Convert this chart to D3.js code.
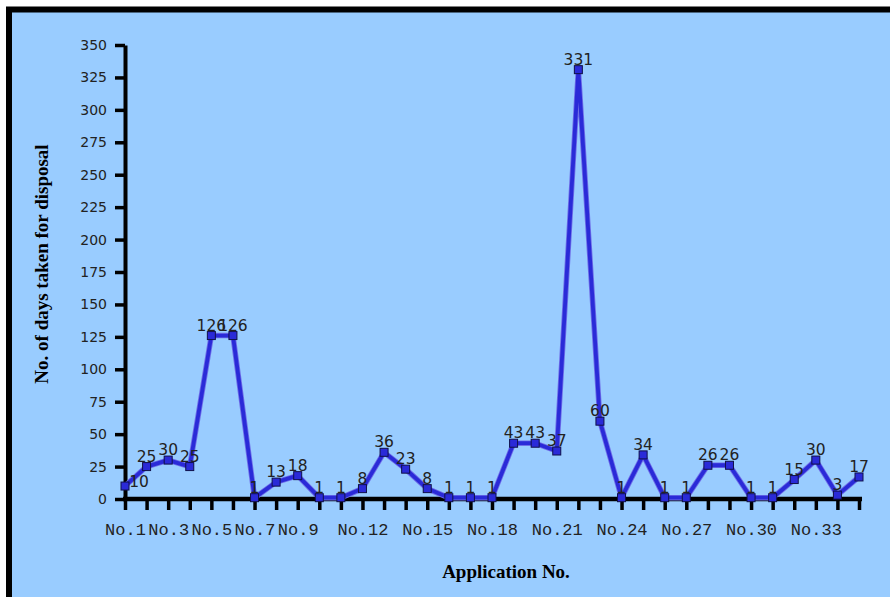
<!DOCTYPE html>
<html lang="en">
<head>
    <meta charset="UTF-8">
    <title>Days taken for disposal</title>
    <script src="https://d3js.org/d3.v7.min.js"></script>
    <style>
        body{ margin:0; background:white; }
        svg{ display:block; }
    </style>
</head>
<body>
    <script>
        const apps = d3.range(1, 36).map(function(i){ return "No." + i; });
        const days = [10,25,30,25,126,126,1,13,18,1,1,8,36,23,8,1,1,1,43,43,37,331,60,1,34,1,1,26,26,1,1,15,30,3,17];
        const shownLabels = ["No.1","No.3","No.5","No.7","No.9","No.12","No.15","No.18","No.21","No.24","No.27","No.30","No.33"];
        const yTicks = d3.range(0, 351, 25);

        const w = 890, h = 597;
        const margin = {left:125, right:31, top:45, bottom:98};

        const svg = d3.select("body").append("svg").attr("width",w).attr("height",h);

        // chart area with black frame (cropped at right and bottom)
        svg.append("rect")
            .attr("x",9).attr("y",9.5).attr("width",w+20).attr("height",h+20)
            .attr("fill","#99ccff").attr("stroke","black").attr("stroke-width",6);

        const x = d3.scalePoint().domain(apps).range([margin.left, w-margin.right]);
        const y = d3.scaleLinear().domain([0,350]).range([h-margin.bottom, margin.top]);

        const yaxis = d3.axisLeft(y).tickValues(yTicks).tickSize(10).tickSizeOuter(0).tickPadding(8);
        const gy = svg.append("g").attr("transform","translate("+margin.left+",0)").call(yaxis);
        gy.select(".domain").attr("stroke","black").attr("stroke-width",4);
        gy.selectAll(".tick line").attr("stroke","black").attr("stroke-width",3.5);
        gy.selectAll(".tick text").attr("font-family","DejaVu Sans").attr("font-size",14).attr("fill","#222");

        const xaxis = d3.axisBottom(x).tickSize(11).tickSizeOuter(0).tickPadding(13)
            .tickFormat(function(d){ return shownLabels.indexOf(d) >= 0 ? d : ""; });
        const gx = svg.append("g").attr("transform","translate(0,"+(h-margin.bottom)+")").call(xaxis);
        gx.select(".domain").attr("stroke","black").attr("stroke-width",4.5).attr("d","M123,0H862");
        gx.selectAll(".tick line").attr("stroke","black").attr("stroke-width",3.5);
        gx.selectAll(".tick text").attr("font-family","'Liberation Mono', monospace").attr("font-size",17).attr("fill","#222");

        const line = d3.line()
            .x(function(d,i){ return x(apps[i]); })
            .y(function(d){ return y(d); });

        svg.append("path").datum(days).attr("d",line)
            .attr("fill","none").attr("stroke","#6f6fe8").attr("stroke-width",5.5).attr("stroke-linejoin","round");
        svg.append("path").datum(days).attr("d",line)
            .attr("fill","none").attr("stroke","#2a2ad8").attr("stroke-width",3.8).attr("stroke-linejoin","round");

        svg.selectAll("rect.mark").data(days).enter().append("rect")
            .attr("class","mark")
            .attr("x",function(d,i){ return x(apps[i]) - 4; })
            .attr("y",function(d){ return y(d) - 4; })
            .attr("width",8).attr("height",8)
            .attr("fill","#2a2ad8").attr("stroke","#10104a").attr("stroke-width",1);

        svg.selectAll("text.lbl").data(days).enter().append("text")
            .attr("class","lbl")
            .attr("x",function(d,i){ return x(apps[i]) + (i === 0 ? 14 : 0); })
            .attr("y",function(d,i){ return y(d) - (i === 0 ? -1 : 5); })
            .attr("text-anchor","middle")
            .attr("font-family","DejaVu Sans").attr("font-size",15.5).attr("fill","#222")
            .text(function(d){ return d; });

        svg.append("text")
            .attr("transform","translate(48,264) rotate(-90)")
            .attr("text-anchor","middle")
            .attr("font-family","'Liberation Serif', serif").attr("font-weight","bold").attr("font-size",19)
            .text("No. of days taken for disposal");

        svg.append("text")
            .attr("x",506).attr("y",578)
            .attr("text-anchor","middle")
            .attr("font-family","'Liberation Serif', serif").attr("font-weight","bold").attr("font-size",19)
            .text("Application No.");
    </script>
</body>
</html>
